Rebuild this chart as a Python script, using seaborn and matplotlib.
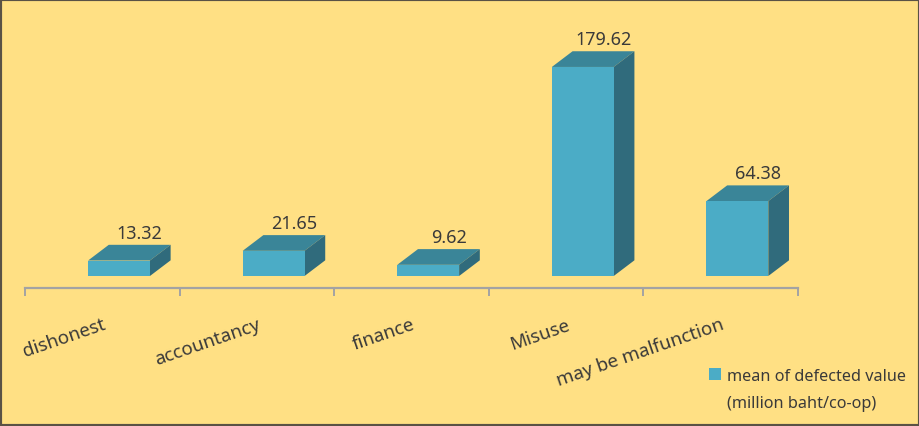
import matplotlib
matplotlib.use("Agg")
import matplotlib.pyplot as plt
from matplotlib.patches import Polygon, Rectangle, Patch
import seaborn as sns

categories = ["dishonest", "accountancy", "finance", "Misuse", "may be malfunction"]
values = [13.32, 21.65, 9.62, 179.62, 64.38]
value_labels = ["13.32", "21.65", "9.62", "179.62", "64.38"]
legend_lines = ["mean of defected value", "(million baht/co-op)"]

BG = "#FFE084"
FRONT = "#4BACC6"
TOP = "#3A8598"
SIDE = "#306B7C"
AXIS = "#A3A3A3"
TXT = "#3A3A3A"

sns.set_theme(style="white")
plt.rcParams["font.family"] = ["Noto Sans", "DejaVu Sans"]

W, H, DPI = 920, 427, 100
fig = plt.figure(figsize=(W / DPI, H / DPI), dpi=DPI)
fig.patch.set_facecolor(BG)
ax = fig.add_axes([25 / W, (H - 289) / H, 773 / W, 289 / H])
ax.set_facecolor(BG)

sns.barplot(x=categories, y=values, order=categories, color=FRONT, saturation=1,
            width=0.4, ax=ax, linewidth=0)

x0lim, x1lim = -0.6081, 4.3921
y0lim, y1lim = -10.3, 238
ax.set_xlim(x0lim, x1lim)
ax.set_ylim(y0lim, y1lim)

# depth offsets (pixels -> data units)
px_per_x = 773 / (x1lim - x0lim)
px_per_y = 289 / (y1lim - y0lim)
dx = 20.7 / px_per_x
dy = 15.7 / px_per_y

for p, lab in zip(list(ax.patches), value_labels):
    x = p.get_x(); w = p.get_width(); h = p.get_height()
    top = Polygon([(x, h), (x + w, h), (x + w + dx, h + dy), (x + dx, h + dy)],
                  closed=True, facecolor=TOP, edgecolor="none", zorder=0.9)
    side = Polygon([(x + w, 0), (x + w + dx, dy), (x + w + dx, h + dy), (x + w, h)],
                   closed=True, facecolor=SIDE, edgecolor="none", zorder=0.9)
    ax.add_patch(top)
    ax.add_patch(side)
    ax.annotate(lab, xy=(x + w / 2 + dx, h + dy), xytext=(0, 5), textcoords="offset points",
                ha="center", va="baseline", fontsize=13, color=TXT)

# axis styling
for s in ["top", "right", "left"]:
    ax.spines[s].set_visible(False)
ax.spines["bottom"].set_color(AXIS)
ax.spines["bottom"].set_linewidth(1.6)
ax.set_yticks([])
ax.set_ylabel("")
ax.set_xlabel("")
bounds = [x0lim + 0.0001 + k for k in range(6)]
ax.set_xticks(bounds)
ax.set_xticklabels([""] * 6)
ax.set_xticks([k - 0.108 for k in range(len(categories))], minor=True)
ax.set_xticklabels(categories, minor=True)
ax.tick_params(axis="x", which="major", direction="out", length=6, width=1.4, color=AXIS, bottom=True)
ax.tick_params(axis="x", which="minor", length=0, pad=19.5, labelsize=13.5, labelcolor=TXT)
plt.setp(ax.get_xticklabels(minor=True), rotation=19, ha="right", va="top", rotation_mode="anchor")

# legend
handles = [Patch(facecolor=FRONT, edgecolor="none"), Patch(facecolor="none", edgecolor="none")]
leg = fig.legend(handles, legend_lines, loc="upper left", bbox_to_anchor=(709 / W, 1 - 369 / H),
                 frameon=False, fontsize=11.7, handlelength=0.74, handleheight=0.74,
                 handletextpad=0.35, labelspacing=0.65, borderpad=0, borderaxespad=0)
for t in leg.get_texts():
    t.set_color(TXT)

# figure border
fig.patches.append(Rectangle((0, 0), 1, 1, transform=fig.transFigure, fill=False,
                             edgecolor="#5A5245", linewidth=3, clip_on=False))

fig.savefig("out.png", dpi=DPI, facecolor=BG)
